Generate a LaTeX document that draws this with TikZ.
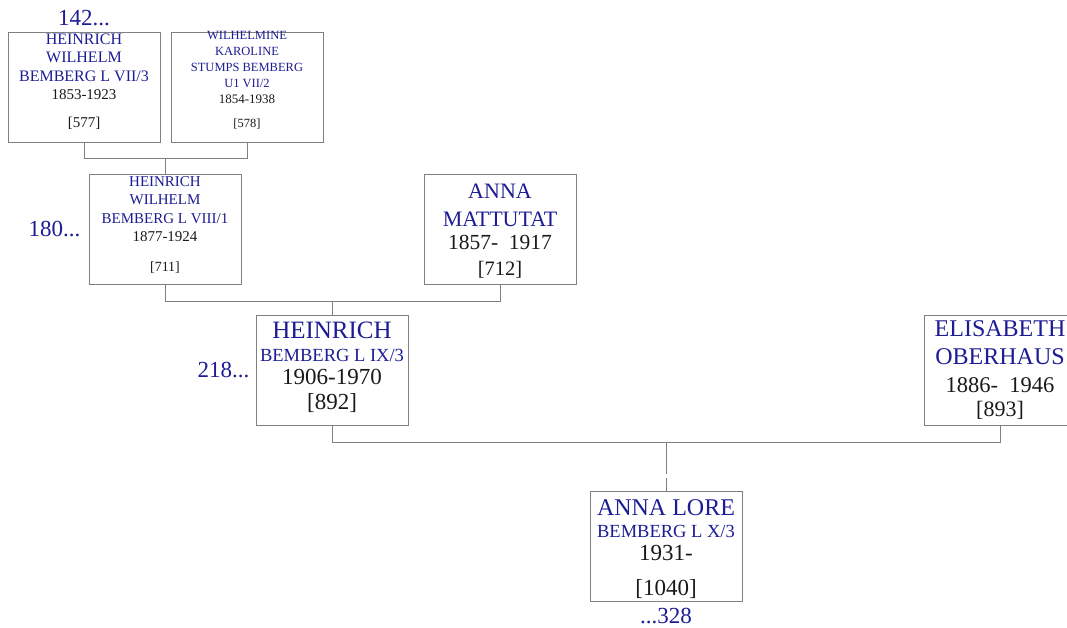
\documentclass[tikz,border=0pt]{standalone}
\usepackage{fontspec}
\setmainfont{Liberation Serif}
\usetikzlibrary{positioning,calc}
\definecolor{nameblue}{RGB}{28,28,148}
\definecolor{datetext}{RGB}{25,25,25}
\definecolor{boxgray}{RGB}{128,128,128}
\newcommand{\fs}[2]{\fontsize{#1}{#2}\selectfont}
\newcommand{\dat}[2]{{\color{datetext}\fs{#1}{#1}#2}}
\begin{document}
\begin{tikzpicture}[x=1pt,y=-1pt,box/.style={draw=boxgray,line width=1pt,minimum width=152pt,minimum height=110pt,inner sep=0pt},txt/.style={align=center,inner sep=0pt,text=nameblue},num/.style={inner sep=0pt,text=nameblue,font=\fs{23}{23}},link/.style={draw=boxgray,line width=1pt}]
\useasboundingbox (0,0) rectangle (1067,628);
\clip (0,0) rectangle (1067,628);
% boxes
\node[box] (a) at (84,88) {};
\node[box] (b) at (247,88) {};
\node[box] (c) at (165,229.5) {};
\node[box] (d) at (500,229.5) {};
\node[box] (e) at (332,370.5) {};
\node[box] (f) at (1000,370.5) {};
\node[box] (g) at (666,546.5) {};
% box texts
\node[txt,font=\fs{16}{18.5},below=1pt of a.north] (ta) {HEINRICH\\WILHELM\\BEMBERG L VII/3\\\dat{15}{1853-1923}\\[9pt]\dat{15}{[577]}};
\node[txt,font=\fs{12.5}{16},below=-1pt of b.north] (tb) {WILHELMINE\\KAROLINE\\STUMPS BEMBERG\\U1 VII/2\\\dat{13}{1854-1938}\\[8pt]\dat{12.5}{[578]}};
\node[txt,font=\fs{15}{18.5},below=2pt of c.north] (tc) {HEINRICH\\WILHELM\\BEMBERG L VIII/1\\\dat{15}{1877-1924}\\[11.5pt]\dat{14}{[711]}};
\node[txt,font=\fs{22}{23},below=10pt of d.north] (td) {ANNA\\[5pt]MATTUTAT\\\dat{21.5}{1857-~ 1917}\\[3pt]\dat{20.5}{[712]}};
\node[txt,font=\fs{25}{23},below=6.5pt of e.north] (te) {HEINRICH\\{\fs{18.5}{18.5}BEMBERG L IX/3}\\\dat{23}{1906-1970}\\[2pt]\dat{23}{[892]}};
\node[txt,font=\fs{24}{26},below=5.5pt of f.north] (tf) {ELISABETH\\[2pt]OBERHAUS\\[2pt]\dat{22.5}{1886-~ 1946}\\[-2pt]\dat{22}{[893]}};
\node[txt,font=\fs{24}{23},below=8pt of g.north] (tg) {ANNA LORE\\[-1pt]{\fs{18.5}{18.5}BEMBERG L X/3}\\\dat{23}{1931-}\\[12pt]\dat{23}{[1040]}};
% generation numbers
\node[num,above=6pt of a.north] (n142) {142...};
\node[num,left=8pt of c] (n180) {180...};
\node[num,left=6pt of e] (n218) {218...};
\node[num,below=6pt of g.south] (n328) {...328};
% links
\draw[link](a.south)--++(0,15)-|(b.south);
\coordinate (ab) at ($(a.south)!.5!(b.south)+(0,15)$);
\draw[link](ab)--(ab|-c.north);
\draw[link](c.south)--++(0,16)-|(d.south);
\coordinate (cd) at ($(c.south)!.5!(d.south)+(0,16)$);
\draw[link](cd)--(cd|-e.north);
\draw[link](e.south)--++(0,16)-|(f.south);
\coordinate (ef) at ($(e.south)!.5!(f.south)+(0,16)$);
\draw[link](ef)--++(0,32);
\draw[link]($(ef)+(0,36)$)--(g.north);
\end{tikzpicture}
\end{document}
